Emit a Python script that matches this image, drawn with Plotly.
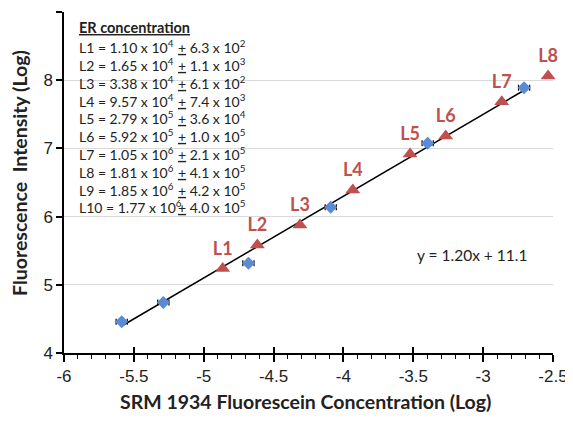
import plotly.graph_objects as go

# SRM 1934 calibration points (blue diamonds)
srm_x = [-5.587, -5.289, -4.68, -4.091, -3.397, -2.707]
srm_y = [4.46, 4.74, 5.315, 6.136, 7.075, 7.89]
srm_xerr = [0.04, 0.04, 0.04, 0.04, 0.04, 0.04]

# ER samples (red triangles)
er_labels = ["L1", "L2", "L3", "L4", "L5", "L6", "L7", "L8"]
er_x = [-4.864, -4.616, -4.311, -3.933, -3.523, -3.268, -2.867, -2.535]
er_y = [5.24, 5.584, 5.877, 6.39, 6.918, 7.18, 7.685, 8.06]

# Linear fit
slope = 1.20
intercept = 11.1
fit_x = [-5.59, -2.70]

conc_names = ["L1", "L2", "L3", "L4", "L5", "L6", "L7", "L8", "L9", "L10"]
conc_vals = ["1.10 x 10<sup>4</sup>", "1.65 x 10<sup>4</sup>", "3.38 x 10<sup>4</sup>",
             "9.57 x 10<sup>4</sup>", "2.79 x 10<sup>5</sup>", "5.92 x 10<sup>5</sup>",
             "1.05 x 10<sup>6</sup>", "1.81 x 10<sup>6</sup>", "1.85 x 10<sup>6</sup>",
             "1.77 x 10<sup>6</sup>"]
conc_errs = ["6.3 x 10<sup>2</sup>", "1.1 x 10<sup>3</sup>", "6.1 x 10<sup>2</sup>",
             "7.4 x 10<sup>3</sup>", "3.6 x 10<sup>4</sup>", "1.0 x 10<sup>5</sup>",
             "2.1 x 10<sup>5</sup>", "4.1 x 10<sup>5</sup>", "4.2 x 10<sup>5</sup>",
             "4.0 x 10<sup>5</sup>"]

x_ticks = [-6, -5.5, -5, -4.5, -4, -3.5, -3, -2.5]
y_ticks = [4, 5, 6, 7, 8, 9]

RED = "#C0504D"
BLUE = "#5B8AD6"
TXT = "#222222"
FONT = "Lato"

# The page body adds an 8px offset; figure is sized so the plot lands where the reference has it.
OFF = 8
W, H = 573 - OFF, 422 - OFF
L, R, T, B = 64 - OFF, 20, 12 - OFF, 69
PW, PH = W - L - R, H - T - B
X0, Y0 = 64, 353  # page-pixel position of plot-area bottom-left


def px(xp):
    return (xp - X0) / PW


def py(yp):
    return (Y0 - yp) / PH


fig = go.Figure()

fig.add_trace(go.Scatter(
    x=fit_x, y=[slope * v + intercept for v in fit_x],
    mode="lines", line=dict(color="black", width=1.5),
    showlegend=False, hoverinfo="skip"))

fig.add_trace(go.Scatter(
    x=srm_x, y=srm_y, mode="markers",
    marker=dict(symbol="diamond", size=10, color=BLUE),
    error_x=dict(type="data", array=srm_xerr, color="black", thickness=1.2, width=3),
    showlegend=False))

fig.add_trace(go.Scatter(
    x=er_x, y=er_y, mode="markers+text", cliponaxis=False,
    marker=dict(symbol="triangle-up", size=13, color=RED),
    text=[f"<b>{t}</b>" for t in er_labels], textposition="top center",
    textfont=dict(family=FONT, size=18, color=RED),
    showlegend=False))

# invisible axis for inner half of major x ticks
fig.add_trace(go.Scatter(x=[-6], y=[4], xaxis="x2", mode="markers",
                         marker=dict(opacity=0), showlegend=False, hoverinfo="skip"))

fig.add_annotation(x=px(77), y=py(28), xref="paper", yref="paper",
                   xanchor="left", yanchor="middle", showarrow=False,
                   text="<b><u>ER concentration</u></b>",
                   font=dict(family=FONT, size=14.5, color=TXT))
for i, (n, v, e) in enumerate(zip(conc_names, conc_vals, conc_errs)):
    yp = 46.7 + i * 17.8
    fig.add_annotation(x=px(77), y=py(yp), xref="paper", yref="paper",
                       xanchor="left", yanchor="middle", showarrow=False,
                       text=f"{n} = {v}", font=dict(family=FONT, size=14, color=TXT))
    fig.add_annotation(x=px(176), y=py(yp), xref="paper", yref="paper",
                       xanchor="left", yanchor="middle", showarrow=False,
                       text=f"<u>+</u> {e}", font=dict(family=FONT, size=14, color=TXT))

fig.add_annotation(x=-3.08, y=5.437, xref="x", yref="y", showarrow=False,
                   text="y = 1.20x + 11.1", font=dict(family=FONT, size=15.5, color=TXT))

fig.add_annotation(x=px(305), y=py(401), xref="paper", yref="paper", showarrow=False,
                   xanchor="center", yanchor="middle",
                   text="<b>SRM 1934 Fluorescein Concentration (Log)</b>",
                   font=dict(family=FONT, size=19.5, color=TXT))
fig.add_annotation(x=px(19), y=py(173), xref="paper", yref="paper", showarrow=False,
                   xanchor="center", yanchor="middle", textangle=-90,
                   text="<b>Fluorescence  Intensity (Log)</b>",
                   font=dict(family=FONT, size=19.5, color=TXT))

fig.update_layout(
    width=W, height=H,
    margin=dict(l=L, r=R, t=T, b=B, autoexpand=False),
    paper_bgcolor="white", plot_bgcolor="white",
    font=dict(family="Liberation Sans", size=16, color=TXT),
    xaxis=dict(range=[-6, -2.5], tickvals=x_ticks, ticktext=[str(v) for v in x_ticks],
               automargin=False,
               showgrid=False, zeroline=False, showline=True, linecolor="black", linewidth=1.5,
               ticks="outside", ticklen=7, tickwidth=1.5, tickcolor="black",
               minor=dict(dtick=0.1, ticks="outside", ticklen=4, tickwidth=1.2, tickcolor="black"),
               tickfont=dict(family="Liberation Sans", size=17)),
    xaxis2=dict(range=[-6, -2.5], overlaying="x", anchor="y", side="bottom", automargin=False,
                tickvals=x_ticks, showticklabels=False, showgrid=False, zeroline=False,
                ticks="inside", ticklen=6, tickwidth=1.5, tickcolor="black"),
    yaxis=dict(range=[4, 9], tickvals=y_ticks, showgrid=True, gridcolor="#D9D9D9", gridwidth=1,
               automargin=False,
               zeroline=False, showline=True, linecolor="black", linewidth=1.5,
               ticks="outside", ticklen=6, tickwidth=1.5, tickcolor="black",
               tickfont=dict(family="Liberation Sans", size=17)),
)

fig.write_html("out.html")
